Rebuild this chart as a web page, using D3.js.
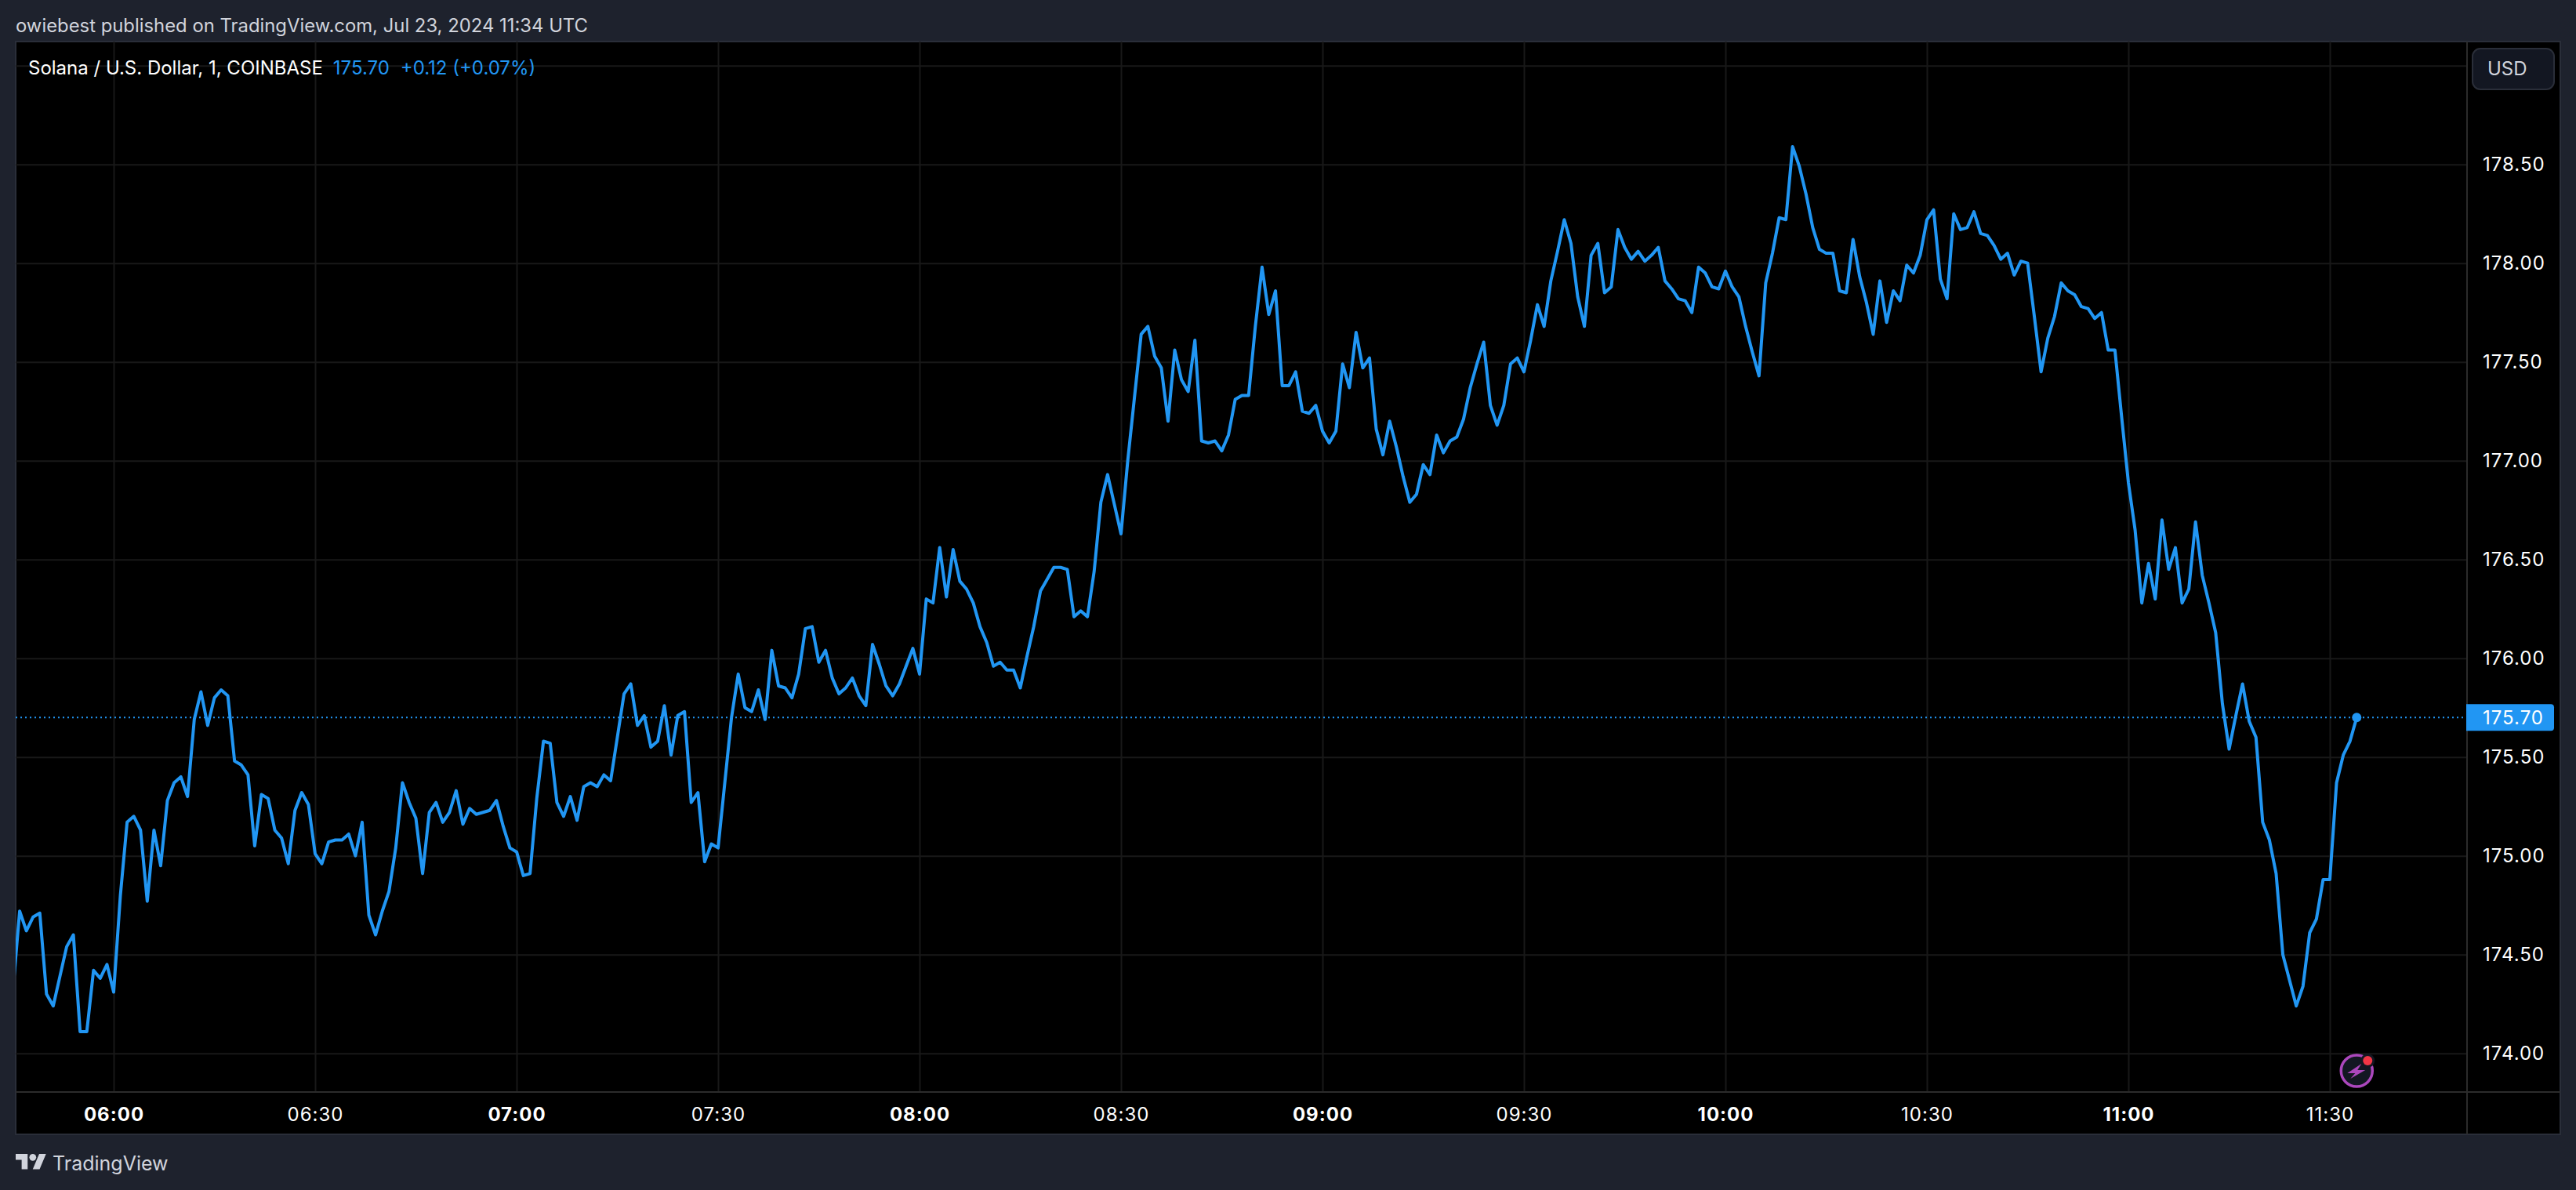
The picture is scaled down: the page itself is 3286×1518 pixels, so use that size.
<!DOCTYPE html>
<html>
<head>
<meta charset="utf-8">
<title>Solana / U.S. Dollar</title>
<script src="https://cdn.jsdelivr.net/npm/d3@7"></script>
<style>
    html, body { margin: 0; padding: 0; background: #1e222d; }
    svg { display: block; }
    text { font-family: Inter, "Noto Sans", sans-serif; }
    .grid line { stroke: #181818; stroke-width: 2; }
    .axis .domain { display: none; }
    .axis text { fill: #fff; font-size: 24px; letter-spacing: 1px; }
    .major text { font-weight: 700; }
</style>
</head>
<body>
<div id="chart"></div>
<script>
var headerText = "owiebest published on TradingView.com, Jul 23, 2024 11:34 UTC";
var symbolText = "Solana / U.S. Dollar, 1, COINBASE";
var lastText = "175.70";
var changeText = "+0.12 (+0.07%)";
var currencyText = "USD";
var brandText = "TradingView";

var firstBar = "05:45";
var lastClose = 175.70;
var priceTicks = [174, 174.5, 175, 175.5, 176, 176.5, 177, 177.5, 178, 178.5, 179];
var timeTicks = ["06:00", "06:30", "07:00", "07:30", "08:00", "08:30", "09:00", "09:30", "10:00", "10:30", "11:00", "11:30"];

// one minute closes, starting at firstBar
var closes = [
    174.32, 174.72, 174.62, 174.69, 174.71, 174.30, 174.24, 174.39, 174.54, 174.60, 174.11, 174.11, 174.42, 174.38, 174.45,
    174.31, 174.80, 175.17, 175.20, 175.13, 174.77, 175.13, 174.95, 175.28, 175.37, 175.40, 175.30, 175.69, 175.83, 175.66,
    175.80, 175.84, 175.81, 175.48, 175.46, 175.41, 175.05, 175.31, 175.29, 175.13, 175.09, 174.96, 175.23, 175.32, 175.26,
    175.01, 174.96, 175.07, 175.08, 175.08, 175.11, 175.00, 175.17, 174.70, 174.60, 174.72, 174.82, 175.04, 175.37, 175.27,
    175.19, 174.91, 175.22, 175.27, 175.17, 175.22, 175.33, 175.16, 175.24, 175.21, 175.22, 175.23, 175.28, 175.15, 175.04,
    175.02, 174.90, 174.91, 175.29, 175.58, 175.57, 175.27, 175.20, 175.30, 175.18, 175.35, 175.37, 175.35, 175.41, 175.38,
    175.60, 175.82, 175.87, 175.66, 175.71, 175.55, 175.58, 175.76, 175.51, 175.71, 175.73, 175.27, 175.32, 174.97, 175.06,
    175.04, 175.37, 175.70, 175.92, 175.75, 175.73, 175.84, 175.69, 176.04, 175.86, 175.85, 175.80, 175.92, 176.15, 176.16,
    175.98, 176.04, 175.90, 175.82, 175.85, 175.90, 175.81, 175.76, 176.07, 175.97, 175.86, 175.81, 175.87, 175.96, 176.05,
    175.92, 176.30, 176.28, 176.56, 176.31, 176.55, 176.39, 176.35, 176.28, 176.16, 176.08, 175.96, 175.98, 175.94, 175.94,
    175.85, 176.01, 176.16, 176.34, 176.40, 176.46, 176.46, 176.45, 176.21, 176.24, 176.21, 176.44, 176.79, 176.93, 176.78,
    176.63, 177.00, 177.32, 177.64, 177.68, 177.53, 177.47, 177.20, 177.56, 177.41, 177.35, 177.61, 177.10, 177.09, 177.10,
    177.05, 177.13, 177.31, 177.33, 177.33, 177.68, 177.98, 177.74, 177.86, 177.38, 177.38, 177.45, 177.25, 177.24, 177.28,
    177.15, 177.09, 177.15, 177.49, 177.37, 177.65, 177.47, 177.52, 177.16, 177.03, 177.20, 177.07, 176.92, 176.79, 176.83,
    176.98, 176.93, 177.13, 177.04, 177.10, 177.12, 177.21, 177.37, 177.49, 177.60, 177.28, 177.18, 177.28, 177.49, 177.52,
    177.45, 177.61, 177.79, 177.68, 177.91, 178.06, 178.22, 178.10, 177.83, 177.68, 178.04, 178.10, 177.85, 177.88, 178.17,
    178.08, 178.02, 178.06, 178.01, 178.04, 178.08, 177.91, 177.87, 177.82, 177.81, 177.75, 177.98, 177.95, 177.88, 177.87,
    177.96, 177.88, 177.83, 177.68, 177.55, 177.43, 177.90, 178.05, 178.23, 178.22, 178.59, 178.49, 178.35, 178.18, 178.07,
    178.05, 178.05, 177.86, 177.85, 178.12, 177.93, 177.80, 177.64, 177.91, 177.70, 177.86, 177.81, 177.99, 177.95, 178.04,
    178.22, 178.27, 177.92, 177.82, 178.25, 178.17, 178.18, 178.26, 178.15, 178.14, 178.09, 178.02, 178.05, 177.94, 178.01,
    178.00, 177.73, 177.45, 177.62, 177.73, 177.90, 177.86, 177.84, 177.78, 177.77, 177.72, 177.75, 177.56, 177.56, 177.22,
    176.89, 176.65, 176.28, 176.48, 176.30, 176.70, 176.45, 176.56, 176.28, 176.35, 176.69, 176.42, 176.28, 176.13, 175.77,
    175.54, 175.71, 175.87, 175.68, 175.60, 175.17, 175.08, 174.91, 174.50, 174.37, 174.24, 174.34, 174.61, 174.68, 174.88,
    174.88, 175.37, 175.51, 175.58, 175.70
];

var WIDTH = 3286, HEIGHT = 1518;
var LEFT = 20, TOP = 53, PLOT_RIGHT = 3147, PLOT_BOTTOM = 1393, RIGHT = 3266, BOTTOM = 1447;
var BLUE = "#2196f3", BORDER = "#2a2e39", INNER_BORDER = "#2b2b2b", SOFT = "#d1d4dc";

var parseTime = d3.utcParse("%H:%M");
var formatTime = d3.utcFormat("%H:%M");

var x = d3.scaleUtc().domain([parseTime("06:00"), parseTime("11:30")]).range([145, 2972]);
var y = d3.scaleLinear().domain([174, 178.5]).range([1343.7, 209.7]);

var start = parseTime(firstBar);
var bars = closes.map(function (c, i) {
    return { t: d3.utcMinute.offset(start, i), c: c };
});
var last = bars[bars.length - 1];

var svg = d3.select("#chart").append("svg")
    .attr("width", WIDTH)
    .attr("height", HEIGHT)
    .attr("viewBox", "0 0 " + WIDTH + " " + HEIGHT);

svg.append("defs").append("clipPath").attr("id", "plot")
    .append("rect")
    .attr("x", LEFT).attr("y", TOP)
    .attr("width", PLOT_RIGHT - LEFT).attr("height", PLOT_BOTTOM - TOP);

// chart frame
svg.append("rect")
    .attr("x", LEFT).attr("y", TOP)
    .attr("width", RIGHT - LEFT).attr("height", BOTTOM - TOP)
    .attr("fill", "#000")
    .attr("stroke", BORDER)
    .attr("stroke-width", 2);

// price axis, ticks double as the horizontal grid
var priceAxis = d3.axisRight(y)
    .tickValues(priceTicks)
    .tickSize(-(PLOT_RIGHT - LEFT))
    .tickPadding(20)
    .tickFormat(function (d) { return d > 178.5 ? "" : d3.format(".2f")(d); });

svg.append("g")
    .attr("class", "axis grid")
    .attr("transform", "translate(" + PLOT_RIGHT + ",0)")
    .call(priceAxis);

// time axis, ticks double as the vertical grid
var timeAxis = d3.axisBottom(x)
    .tickValues(timeTicks.map(parseTime))
    .tickSize(-(PLOT_BOTTOM - TOP))
    .tickPadding(20)
    .tickFormat(formatTime);

svg.append("g")
    .attr("class", "axis grid")
    .attr("transform", "translate(0," + PLOT_BOTTOM + ")")
    .call(timeAxis)
    .selectAll(".tick")
    .classed("major", function (d) { return d.getUTCMinutes() === 0; });

// axis borders
svg.append("line")
    .attr("x1", PLOT_RIGHT).attr("x2", PLOT_RIGHT)
    .attr("y1", TOP).attr("y2", BOTTOM)
    .attr("stroke", INNER_BORDER).attr("stroke-width", 2);
svg.append("line")
    .attr("x1", LEFT).attr("x2", RIGHT)
    .attr("y1", PLOT_BOTTOM).attr("y2", PLOT_BOTTOM)
    .attr("stroke", INNER_BORDER).attr("stroke-width", 2);

var plot = svg.append("g").attr("clip-path", "url(#plot)");

// last price line
plot.append("line")
    .attr("x1", LEFT).attr("x2", PLOT_RIGHT)
    .attr("y1", y(lastClose)).attr("y2", y(lastClose))
    .attr("stroke", BLUE)
    .attr("stroke-width", 2)
    .attr("stroke-dasharray", "2 4");

var line = d3.line()
    .x(function (d) { return x(d.t); })
    .y(function (d) { return y(d.c); });

plot.append("path")
    .datum(bars)
    .attr("d", line)
    .attr("fill", "none")
    .attr("stroke", BLUE)
    .attr("stroke-width", 4)
    .attr("stroke-linejoin", "round");

plot.append("circle")
    .attr("cx", x(last.t)).attr("cy", y(last.c))
    .attr("r", 6)
    .attr("fill", BLUE);

// earnings-style lightning marker under the last bar
var marker = svg.append("g")
    .attr("transform", "translate(" + x(last.t) + ",1366)");
marker.append("circle")
    .attr("r", 20)
    .attr("fill", "#131722")
    .attr("stroke", "#ab47bc")
    .attr("stroke-width", 3.5);
marker.append("path")
    .attr("d", "M6 -9 L-12 3 L-2 3 L-8 10 L11 -1 L1 -1 Z")
    .attr("fill", "#ab47bc");
marker.append("circle")
    .attr("cx", 14).attr("cy", -13).attr("r", 9)
    .attr("fill", "#131722");
marker.append("circle")
    .attr("cx", 14).attr("cy", -13).attr("r", 6)
    .attr("fill", "#f23645");

// last price tag
svg.append("path")
    .attr("d", "M" + (PLOT_RIGHT - 1) + " " + (y(lastClose) - 17) + " H3254 a4 4 0 0 1 4 4 V" + (y(lastClose) + 13) + " a4 4 0 0 1 -4 4 H" + (PLOT_RIGHT - 1) + " Z")
    .attr("fill", BLUE);
svg.append("text")
    .attr("x", 3167).attr("y", y(lastClose))
    .attr("dy", "0.36em")
    .attr("fill", "#fff")
    .style("font-size", "24px")
    .style("letter-spacing", "1px")
    .text(lastText);

// currency button
svg.append("rect")
    .attr("x", 3154).attr("y", 62)
    .attr("width", 104).attr("height", 52)
    .attr("rx", 10)
    .attr("fill", "#131722")
    .attr("stroke", BORDER)
    .attr("stroke-width", 2);
svg.append("text")
    .attr("x", 3173).attr("y", 87)
    .attr("dy", "0.36em")
    .attr("fill", SOFT)
    .style("font-size", "24px")
    .text(currencyText);

// header and legend
svg.append("text")
    .attr("x", 20).attr("y", 32)
    .attr("dy", "0.36em")
    .attr("fill", SOFT)
    .style("font-size", "23.85px")
    .text(headerText);

var legend = svg.append("text")
    .attr("x", 36).attr("y", 86)
    .attr("dy", "0.36em")
    .style("font-size", "24px");
legend.append("tspan").attr("fill", "#fff").text(symbolText);
legend.append("tspan").attr("fill", BLUE).attr("dx", 13).text(lastText);
legend.append("tspan").attr("fill", BLUE).attr("dx", 14).text(changeText);

// brand
svg.append("path")
    .attr("transform", "translate(20,1467.6) scale(1.09)")
    .attr("d", "M14 22H7V11H0V4h14v18zM28 22h-8l7.5-18h8L28 22z")
    .attr("fill", SOFT);
svg.append("circle")
    .attr("cx", 20 + 20 * 1.09).attr("cy", 1467.6 + 8 * 1.09)
    .attr("r", 4 * 1.09)
    .attr("fill", SOFT);
svg.append("text")
    .attr("x", 67).attr("y", 1484)
    .attr("dy", "0.36em")
    .attr("fill", SOFT)
    .style("font-size", "25px")
    .text(brandText);
</script>
</body>
</html>
